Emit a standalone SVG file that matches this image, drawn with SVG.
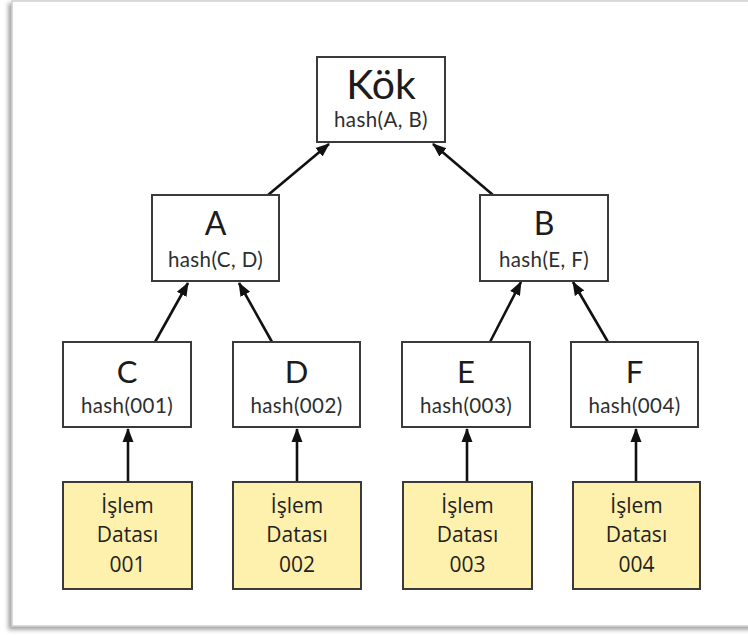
<svg xmlns="http://www.w3.org/2000/svg" width="748" height="635" viewBox="0 0 748 635">
  <style>
    .node rect { fill: #ffffff; stroke: #3a3a3a; stroke-width: 2; }
    .data rect { fill: #fef0ad; stroke: #3a3a3a; stroke-width: 2; }
    .big { font-family: Lato, "Open Sans", sans-serif; fill: #1c1c1c; text-anchor: middle; }
    .sub { font-family: Lato, "Open Sans", sans-serif; fill: #2e2e2e; text-anchor: middle; font-size: 20.5px; letter-spacing: 0.4px; }
    .dt { font-family: "Open Sans", "Noto Sans", sans-serif; fill: #222; text-anchor: middle; font-size: 21px; }
    .edge { stroke: #111; stroke-width: 2.6; fill: none; marker-end: url(#arrow); }
  </style>
  <defs>
    <marker id="arrow" markerUnits="userSpaceOnUse" markerWidth="14" markerHeight="14" viewBox="0 0 14 14" refX="13" refY="7" orient="auto">
      <path d="M0,1.5 L14,7 L0,12.5 Z" fill="#111"/>
    </marker>
    <filter id="shadow" x="-5%" y="-5%" width="110%" height="110%">
      <feDropShadow dx="-3" dy="3" stdDeviation="2" flood-color="#7a7a7a" flood-opacity="0.7"/>
    </filter>
  </defs>

  <!-- page frame -->
  <rect x="0" y="0" width="748" height="635" fill="#ffffff"/>
  <rect x="12" y="1" width="760" height="625" fill="#ffffff" stroke="#d0d0d0" stroke-width="1.5" filter="url(#shadow)"/>

  <!-- connectors -->
  <g id="connectors">
    <line class="edge" x1="268" y1="195" x2="329" y2="144"/>
    <line class="edge" x1="493" y1="195" x2="433" y2="144"/>
    <line class="edge" x1="155" y1="342" x2="188" y2="283"/>
    <line class="edge" x1="272" y1="342" x2="239" y2="283"/>
    <line class="edge" x1="490" y1="342" x2="521" y2="282"/>
    <line class="edge" x1="608" y1="342" x2="573" y2="282"/>
    <line class="edge" x1="128" y1="482" x2="128" y2="429"/>
    <line class="edge" x1="297" y1="482" x2="297" y2="429"/>
    <line class="edge" x1="467" y1="482" x2="467" y2="429"/>
    <line class="edge" x1="636" y1="482" x2="636" y2="429"/>
  </g>

  <g id="kok" class="node">
    <rect x="317" y="57" width="128" height="85"/>
    <text class="big" x="381" y="99" font-size="41">Kök</text>
    <text class="sub" x="381" y="127">hash(A, B)</text>
  </g>

  <g id="A" class="node">
    <rect x="152" y="195" width="127" height="86"/>
    <text class="big" x="215.5" y="235" font-size="32">A</text>
    <text class="sub" x="215.5" y="267">hash(C, D)</text>
  </g>

  <g id="B" class="node">
    <rect x="480" y="195" width="128" height="86"/>
    <text class="big" x="544" y="235" font-size="32">B</text>
    <text class="sub" x="544" y="267">hash(E, F)</text>
  </g>

  <g id="C" class="node">
    <rect x="63" y="342" width="128" height="85"/>
    <text class="big" x="127" y="383" font-size="31">C</text>
    <text class="sub" x="127" y="413">hash(001)</text>
  </g>

  <g id="D" class="node">
    <rect x="233" y="342" width="127" height="85"/>
    <text class="big" x="296.5" y="383" font-size="31">D</text>
    <text class="sub" x="296.5" y="413">hash(002)</text>
  </g>

  <g id="E" class="node">
    <rect x="402" y="342" width="128" height="85"/>
    <text class="big" x="466" y="383" font-size="31">E</text>
    <text class="sub" x="466" y="413">hash(003)</text>
  </g>

  <g id="F" class="node">
    <rect x="571" y="342" width="127" height="85"/>
    <text class="big" x="634.5" y="383" font-size="31">F</text>
    <text class="sub" x="634.5" y="413">hash(004)</text>
  </g>

  <g id="data001" class="data">
    <rect x="63" y="482" width="129" height="107"/>
    <text class="dt" x="127.5" y="513">İşlem</text>
    <text class="dt" x="127.5" y="542">Datası</text>
    <text class="dt" x="127.5" y="572">001</text>
  </g>

  <g id="data002" class="data">
    <rect x="233" y="482" width="128" height="107"/>
    <text class="dt" x="297" y="513">İşlem</text>
    <text class="dt" x="297" y="542">Datası</text>
    <text class="dt" x="297" y="572">002</text>
  </g>

  <g id="data003" class="data">
    <rect x="403" y="482" width="129" height="107"/>
    <text class="dt" x="467.5" y="513">İşlem</text>
    <text class="dt" x="467.5" y="542">Datası</text>
    <text class="dt" x="467.5" y="572">003</text>
  </g>

  <g id="data004" class="data">
    <rect x="573" y="482" width="127" height="107"/>
    <text class="dt" x="636.5" y="513">İşlem</text>
    <text class="dt" x="636.5" y="542">Datası</text>
    <text class="dt" x="636.5" y="572">004</text>
  </g>
</svg>
